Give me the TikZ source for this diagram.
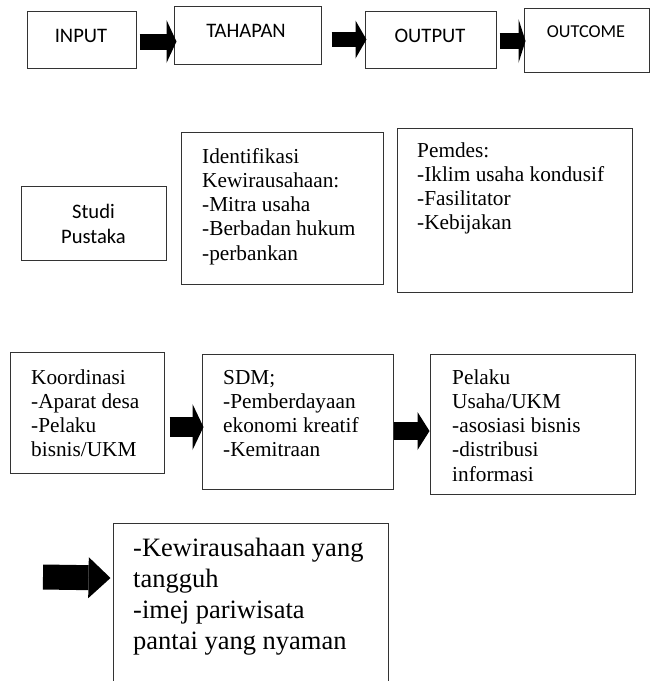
\documentclass[tikz,border=0pt]{standalone}
\usepackage{fontspec}
\setmainfont{Liberation Serif}
\newfontfamily\calibri{Carlito}
\usetikzlibrary{arrows.meta}

\tikzset{
  box/.style={draw=black!80, line width=1pt, inner sep=0pt},
  lbl/.style={inner sep=0pt, anchor=base, font=\calibri\fontsize{20.6}{25.5}\selectfont},
  txt/.style={inner sep=0pt, anchor=base west, align=left, font=\fontsize{21.3}{24.3}\selectfont},
  fat/.style n args={3}{line width=#1, -{Triangle[length=#2,width=#3,line width=0pt]}}
}

\begin{document}
\begin{tikzpicture}[x=1pt, y=-1pt]
    \useasboundingbox (0,0) rectangle (650,681);

    % top row
    \node[box, minimum width=109, minimum height=57] (inp) at (81.5,39.5) {};
    \node[box, minimum width=147, minimum height=58] (tah) at (247.5,35) {};
    \node[box, minimum width=131, minimum height=57] (outp) at (430.5,39.5) {};
    \node[box, minimum width=125, minimum height=64] (outc) at (586.5,40) {};

    \node[lbl] (inp-t) at (81,42) {INPUT};
    \node[lbl] (tah-t) at (246,37) {TAHAPAN};
    \node[lbl] (outp-t) at (430,42) {OUTPUT};
    \node[lbl, font=\calibri\fontsize{18.2}{22}\selectfont] (outc-t) at (586,37) {OUTCOME};

    \draw[fat={16pt}{10pt}{43pt}] ([shift={(3,2)}]inp.east) -- ([shift={(3,6.5)}]tah.west);
    \draw[fat={15pt}{11pt}{38pt}] ([shift={(10,4.5)}]tah.east) -- ([shift={(2,0)}]outp.west);
    \draw[fat={16pt}{7pt}{44pt}] ([shift={(3,1.5)}]outp.east) -- ([shift={(2,1)}]outc.west);

    % second row (text nodes sit on their last baseline)
    \node[box, minimum width=145, minimum height=74] (studi) at (93.5,223) {};
    \node[box, minimum width=202, minimum height=152] (ident) at (282,208) {};
    \node[box, minimum width=235, minimum height=164] (pemdes) at (514.5,210) {};

    \node[lbl, align=center] (studi-t) at (93.5,243.5) {Studi\\Pustaka};
    \node[txt] (ident-t) at (202,260.2) {Identifikasi\\Kewirausahaan:\\-Mitra usaha\\-Berbadan hukum\\-perbankan};
    \node[txt] (pemdes-t) at (417,229.9) {Pemdes:\\-Iklim usaha kondusif\\-Fasilitator\\-Kebijakan};

    % third row
    \node[box, minimum width=154, minimum height=121] (koord) at (87,412.5) {};
    \node[box, minimum width=191, minimum height=135] (sdm) at (297.5,421.5) {};
    \node[box, minimum width=205, minimum height=140] (pelaku) at (532.5,424) {};

    \node[txt] (koord-t) at (31,456.9) {Koordinasi\\-Aparat desa\\-Pelaku\\bisnis/UKM};
    \node[txt] (sdm-t) at (223,456.9) {SDM;\\-Pemberdayaan\\ekonomi kreatif\\-Kemitraan};
    \node[txt] (pelaku-t) at (452,481.2) {Pelaku\\Usaha/UKM\\-asosiasi bisnis\\-distribusi\\informasi};

    \draw[fat={20pt}{11pt}{46pt}] ([shift={(5,14.5)}]koord.east) -- ([shift={(2,5.5)}]sdm.west);
    \draw[fat={18pt}{12pt}{38pt}] ([shift={(0,9.5)}]sdm.east) -- ([shift={(0,7)}]pelaku.west);

    % bottom
    \node[box, minimum width=275, minimum height=177] (hasil) at (250.5,611.5) {};
    \node[txt, font=\fontsize{26.5}{31}\selectfont] (hasil-t) at (133,649) {-Kewirausahaan yang\\tangguh\\-imej pariwisata\\pantai yang nyaman};

    \coordinate (start) at (43,577);
    \draw[fat={25pt}{22pt}{41pt}] (start) -- ([shift={(-2,-33.5)}]hasil.west);
\end{tikzpicture}
\end{document}
